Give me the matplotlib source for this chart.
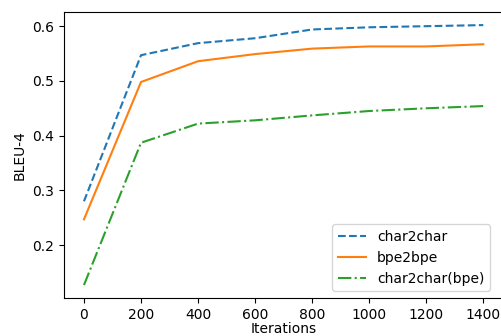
import matplotlib
matplotlib.use('Agg')
import matplotlib.pyplot as plt

iterations = [0, 200, 400, 600, 800, 1000, 1200, 1400]
char2char = [0.280, 0.547, 0.569, 0.578, 0.594, 0.598, 0.600, 0.602]
bpe2bpe = [0.247, 0.498, 0.536, 0.549, 0.559, 0.563, 0.563, 0.567]
char2char_bpe = [0.127, 0.387, 0.422, 0.428, 0.437, 0.445, 0.450, 0.454]

fig = plt.figure(figsize=(5.02, 3.36), dpi=100)
ax = fig.add_axes([0.1275, 0.113, 0.875, 0.851])

ax.plot(iterations, char2char, '--', label='char2char')
ax.plot(iterations, bpe2bpe, '-', label='bpe2bpe')
ax.plot(iterations, char2char_bpe, '-.', label='char2char(bpe)')

ax.set_xlabel('Iterations', labelpad=0.5)
ax.set_ylabel('BLEU-4')
ax.set_xticks(range(0, 1401, 200))
ax.set_yticks([0.2, 0.3, 0.4, 0.5, 0.6])
ax.legend(loc='lower right', bbox_to_anchor=(0.985, 0.0))

fig.savefig('out.png', dpi=100)
